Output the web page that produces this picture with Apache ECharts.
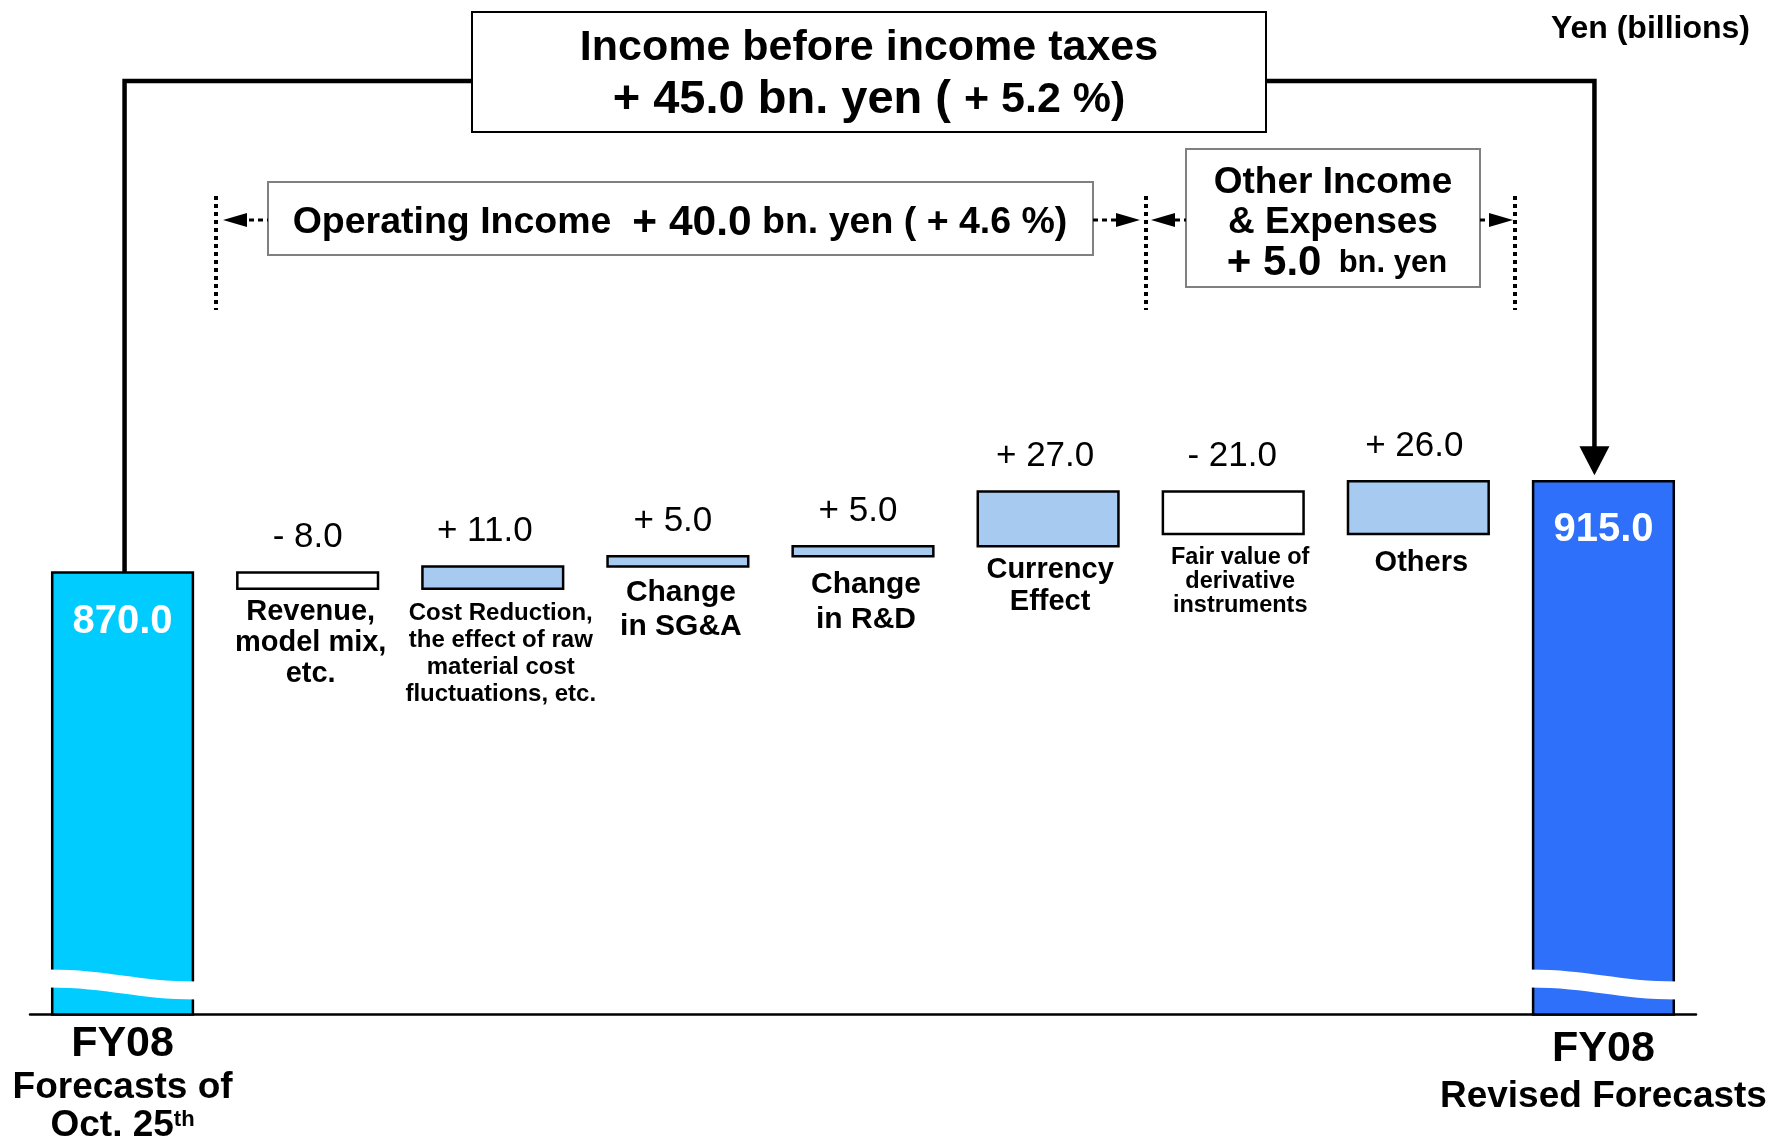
<!DOCTYPE html>
<html><head><meta charset="utf-8">
<script src="https://cdn.jsdelivr.net/npm/echarts/dist/echarts.min.js"></script>
<style>html,body{margin:0;padding:0;background:#fff}#c{width:1771px;height:1144px}</style>
</head><body><div id="c"></div>
<script>
// ---------------- data ----------------
const categories = ['FY08 Forecasts of Oct. 25th', 'Revenue, model mix, etc.',
  'Cost Reduction, the effect of raw material cost fluctuations, etc.', 'Change in SG&A',
  'Change in R&D', 'Currency Effect', 'Fair value of derivative instruments', 'Others',
  'FY08 Revised Forecasts'];
const startValue = 870.0;
const endValue = 915.0;
const deltas = [-8.0, 11.0, 5.0, 5.0, 27.0, -21.0, 26.0];
const deltaLabels = ['- 8.0', '+ 11.0', '+ 5.0', '+ 5.0', '+ 27.0', '- 21.0', '+ 26.0'];
const categoryLabels = ['Revenue,\nmodel mix,\netc.', 'Cost Reduction,\nthe effect of raw\nmaterial cost\nfluctuations, etc.',
  'Change\nin SG&A', 'Change\nin R&D', 'Currency\nEffect', 'Fair value of\nderivative\ninstruments', 'Others'];
const totalLabels = ['870.0', '915.0'];
const axisMin = 652, axisMax = 1002;

// ---------------- styles ----------------
const FONT = "'Liberation Sans', Arial, Helvetica, sans-serif";
const catLabelStyle = [
  {size: 29, lh: 31, dy: 23, dx: 3},
  {size: 24, lh: 27, dy: 25, dx: 8},
  {size: 30, lh: 34, dy: 26, dx: 3},
  {size: 30, lh: 35, dy: 28, dx: 3},
  {size: 29, lh: 32, dy: 24, dx: 2},
  {size: 23.5, lh: 24, dy: 23, dx: 7},
  {size: 29, lh: 32, dy: 29, dx: 3}
];
const valueLabelDx = [0, -8, -5, -5, -3, -1, -4];

// build waterfall items
const items = [];
items.push({value: [0, axisMin, startValue], kind: 'start'});
let run = startValue;
deltas.forEach((d, k) => {
  items.push({value: [k + 1, run, run + d], kind: d >= 0 ? 'up' : 'down', k: k});
  run += d;
});
items.push({value: [categories.length - 1, axisMin, endValue], kind: 'end'});

function renderItem(params, api) {
  const it = items[params.dataIndex];
  const i = api.value(0), a = api.value(1), b = api.value(2);
  const bw = api.size([1, 0])[0] * 0.76;
  const pTop = api.coord([i, Math.max(a, b)]);
  const pBot = api.coord([i, Math.min(a, b)]);
  const x0 = pTop[0] - bw / 2, x1 = pTop[0] + bw / 2, cx = pTop[0];
  const children = [];
  let fill = '#A6CAF0';
  if (it.kind === 'down') fill = '#FFFFFF';
  if (it.kind === 'start') fill = '#00CCFF';
  if (it.kind === 'end') fill = '#2E70FA';
  children.push({type: 'rect', shape: {x: x0, y: pTop[1], width: bw, height: pBot[1] - pTop[1]},
    style: {fill: fill, stroke: '#000', lineWidth: 2.5}});
  if (it.kind === 'start' || it.kind === 'end') {
    const base = pBot[1];
    const tl = base - 45, tr = base - 33, bl = base - 27, br = base - 15;
    const w = bw;
    const path = `M ${x0 - 4} ${tl} C ${x0 + w * 0.4} ${tl} ${x0 + w * 0.6} ${tr} ${x1 + 4} ${tr} ` +
      `L ${x1 + 4} ${br} C ${x0 + w * 0.6} ${br} ${x0 + w * 0.4} ${bl} ${x0 - 4} ${bl} Z`;
    children.push({type: 'path', shape: {pathData: path}, style: {fill: '#fff', stroke: null}});
    children.push({type: 'text', style: {text: totalLabels[it.kind === 'start' ? 0 : 1], x: cx, y: pTop[1] + 49,
      align: 'center', verticalAlign: 'middle', fontSize: 40, fontWeight: 'bold', fontFamily: FONT, fill: '#fff'}});
  } else {
    const k = it.k;
    children.push({type: 'text', style: {text: deltaLabels[k], x: cx + valueLabelDx[k], y: pTop[1] - 35,
      align: 'center', verticalAlign: 'middle', fontSize: 35, fontFamily: FONT, fill: '#000'}});
    const st = catLabelStyle[k];
    children.push({type: 'text', style: {text: categoryLabels[k], x: cx + st.dx, y: pBot[1] + st.dy - st.lh / 2,
      align: 'center', verticalAlign: 'top', fontSize: st.size, lineHeight: st.lh, fontWeight: 'bold',
      fontFamily: FONT, fill: '#000'}});
  }
  return {type: 'group', children: children};
}

const chart = echarts.init(document.getElementById('c'), null, {renderer: 'canvas'});
chart.setOption({
  animation: false,
  backgroundColor: '#fff',
  grid: {left: 30, right: 75, top: 305, bottom: 124},
  xAxis: {
    type: 'category', data: categories,
    axisLine: {lineStyle: {color: '#000', width: 2.5}},
    axisTick: {show: false},
    axisLabel: {
      interval: 0, margin: 8, color: '#000', fontFamily: FONT,
      formatter: function (v, idx) {
        if (idx === 0) return '{fy|FY08}\n{ln|Forecasts of}\n{ln2|Oct. 25}{sup|th}';
        if (idx === categories.length - 1) return '{fyr|FY08}\n{lnr|Revised Forecasts}';
        return '';
      },
      rich: {
        fy: {fontSize: 43, fontWeight: 'bold', lineHeight: 44, fontFamily: FONT, color: '#000'},
        ln: {fontSize: 37, fontWeight: 'bold', lineHeight: 42, fontFamily: FONT, color: '#000'},
        ln2: {fontSize: 37, fontWeight: 'bold', lineHeight: 34, fontFamily: FONT, color: '#000'},
        sup: {fontSize: 22, fontWeight: 'bold', lineHeight: 34, verticalAlign: 'top', fontFamily: FONT, color: '#000'},
        fyr: {fontSize: 43, fontWeight: 'bold', lineHeight: 54, fontFamily: FONT, color: '#000'},
        lnr: {fontSize: 37, fontWeight: 'bold', lineHeight: 40, fontFamily: FONT, color: '#000'}
      }
    }
  },
  yAxis: {type: 'value', min: axisMin, max: axisMax, show: false, splitLine: {show: false}},
  series: [{type: 'custom', renderItem: renderItem, data: items, clip: false}]
});

// ---------------- annotations ----------------
const xL = chart.convertToPixel({xAxisIndex: 0}, 0) + 2;
const xR = chart.convertToPixel({xAxisIndex: 0}, categories.length - 1) - 9;
const yStartTop = chart.convertToPixel({yAxisIndex: 0}, startValue);
const yEndTop = chart.convertToPixel({yAxisIndex: 0}, endValue);
const LY = 81, AY = 220;
function tri(tipX, dir) { // dir -1: pointing left, +1 pointing right
  const baseX = tipX - dir * 24;
  return {type: 'polygon', shape: {points: [[tipX, AY], [baseX, AY - 7], [baseX, AY + 7]]}, style: {fill: '#000'}};
}
function dash(xa, xb) {
  return {type: 'line', shape: {x1: xa, y1: AY, x2: xb, y2: AY}, style: {stroke: '#000', lineWidth: 3, lineDash: [5, 4]}};
}
function vdots(x) {
  return {type: 'line', shape: {x1: x, y1: 196, x2: x, y2: 310}, style: {stroke: '#000', lineWidth: 4, lineDash: [4, 4]}};
}
const g = [
  {type: 'polyline', shape: {points: [[xL, yStartTop], [xL, LY], [472, LY]]}, style: {stroke: '#000', lineWidth: 4.5, fill: null}},
  {type: 'polyline', shape: {points: [[1266, LY], [xR, LY], [xR, yEndTop - 32]]}, style: {stroke: '#000', lineWidth: 4.5, fill: null}},
  {type: 'polygon', shape: {points: [[xR - 15, yEndTop - 35], [xR + 15, yEndTop - 35], [xR, yEndTop - 6]]}, style: {fill: '#000'}},
  {type: 'rect', shape: {x: 472, y: 12, width: 794, height: 120}, style: {fill: '#fff', stroke: '#000', lineWidth: 2}},
  {type: 'text', style: {text: 'Income before income taxes', x: 869, y: 48, align: 'center', verticalAlign: 'middle',
    fontSize: 43, fontWeight: 'bold', fontFamily: FONT, fill: '#000'}},
  {type: 'text', style: {text: '{t|+ 45.0 bn. yen ( }{s|+ 5.2 %)}', x: 869, y: 100, align: 'center', verticalAlign: 'middle',
    rich: {t: {fontSize: 47, fontWeight: 'bold', fontFamily: FONT, fill: '#000'},
           s: {fontSize: 43, fontWeight: 'bold', fontFamily: FONT, fill: '#000'}}}},
  {type: 'rect', shape: {x: 268, y: 182, width: 825, height: 73}, style: {fill: '#fff', stroke: '#808080', lineWidth: 2}},
  {type: 'text', style: {text: '{a|Operating Income  }{b|+ 40.0}{a| bn. yen ( + 4.6 %)}', x: 680, y: 223, align: 'center', verticalAlign: 'middle',
    rich: {a: {fontSize: 37.5, fontWeight: 'bold', fontFamily: FONT, fill: '#000'},
           b: {fontSize: 42.5, fontWeight: 'bold', fontFamily: FONT, fill: '#000'}}}},
  {type: 'rect', shape: {x: 1186, y: 149, width: 294, height: 138}, style: {fill: '#fff', stroke: '#808080', lineWidth: 2}},
  {type: 'text', style: {text: 'Other Income', x: 1333, y: 183, align: 'center', verticalAlign: 'middle',
    fontSize: 37, fontWeight: 'bold', fontFamily: FONT, fill: '#000'}},
  {type: 'text', style: {text: '& Expenses', x: 1333, y: 223, align: 'center', verticalAlign: 'middle',
    fontSize: 37, fontWeight: 'bold', fontFamily: FONT, fill: '#000'}},
  {type: 'text', style: {text: '{b|+ 5.0}{a|  bn. yen}', x: 1337, y: 263, align: 'center', verticalAlign: 'middle',
    rich: {a: {fontSize: 31, fontWeight: 'bold', fontFamily: FONT, fill: '#000'},
           b: {fontSize: 42, fontWeight: 'bold', fontFamily: FONT, fill: '#000'}}}},
  {type: 'text', style: {text: 'Yen (billions)', x: 1750, y: 29, align: 'right', verticalAlign: 'middle',
    fontSize: 32, fontWeight: 'bold', fontFamily: FONT, fill: '#000'}},
  vdots(216), vdots(1146), vdots(1515),
  tri(223, -1), dash(249, 268),
  dash(1093, 1116), tri(1140, 1),
  tri(1151, -1), dash(1175, 1186),
  dash(1480, 1490), tri(1513, 1)
];
chart.setOption({graphic: g});
</script></body></html>
